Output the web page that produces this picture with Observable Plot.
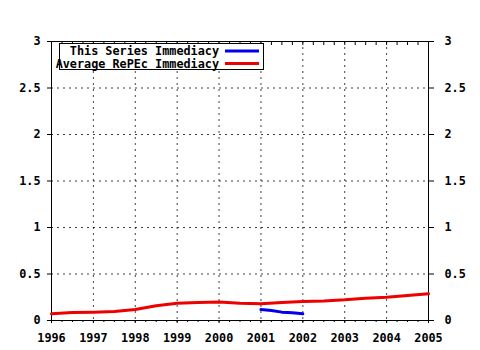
<!DOCTYPE html>
<html>
<head>
<meta charset="utf-8">
<script src="https://cdn.jsdelivr.net/npm/d3@7"></script>
<script src="https://cdn.jsdelivr.net/npm/@observablehq/plot@0.6"></script>
<style>
  html, body { margin: 0; padding: 0; background: #fff; }
  #chart svg { display: block; }
</style>
</head>
<body>
<div id="chart"></div>
<script>
// ---- data ----
const avgYears = [1996, 1996.5, 1997, 1997.5, 1998, 1998.5, 1999, 1999.5, 2000, 2000.5,
                  2001, 2001.5, 2002, 2002.5, 2003, 2003.5, 2004, 2004.5, 2005];
const avgImmediacy = [0.072, 0.086, 0.09, 0.097, 0.118, 0.158, 0.186, 0.193, 0.2, 0.186,
                      0.179, 0.193, 0.204, 0.21, 0.222, 0.24, 0.25, 0.269, 0.287];
const seriesYears = [2001, 2001.25, 2001.5, 2001.75, 2002];
const seriesImmediacy = [0.118, 0.107, 0.09, 0.083, 0.072];
const xTicks = [1996, 1997, 1998, 1999, 2000, 2001, 2002, 2003, 2004, 2005];
const yTicks = [0, 0.5, 1, 1.5, 2, 2.5, 3];
const legendLabels = ["This Series Immediacy", "Average RePEc Immediacy"];
const legendColors = ["#0000ee", "#ee0000"];

const avgData = avgYears.map((x, i) => ({x, y: avgImmediacy[i]}));
const seriesData = seriesYears.map((x, i) => ({x, y: seriesImmediacy[i]}));
const minorTicks = d3.range(xTicks[0] * 4, xTicks[xTicks.length - 1] * 4 + 1).map(q => q / 4);
const fmt = d => String(d);

const font = "DejaVu Sans Mono";
const chart = Plot.plot({
  width: 480,
  height: 350,
  marginLeft: 51,
  marginRight: 52,
  marginTop: 41,
  marginBottom: 30,
  style: {fontFamily: font, fontSize: "11.8px", fontWeight: "bold", color: "#000", background: "#fff"},
  x: {domain: [1996, 2005]},
  y: {domain: [0, 3]},
  marks: [
    Plot.ruleX(xTicks, {stroke: "#000", strokeDasharray: "2,4", strokeOpacity: 0.75}),
    Plot.ruleY(yTicks, {stroke: "#000", strokeDasharray: "2,4", strokeOpacity: 0.75}),
    Plot.frame({stroke: "#000", strokeWidth: 1}),
    Plot.axisX(minorTicks, {anchor: "bottom", tickSize: 2, text: null, label: null, stroke: "#000"}),
    Plot.axisX(minorTicks, {anchor: "top", tickSize: -3, text: null, label: null, stroke: "#000"}),
    Plot.axisX(xTicks, {anchor: "bottom", tickSize: 3, tickPadding: 10, tickFormat: fmt, label: null, fill: "#000"}),
    Plot.axisY(yTicks, {anchor: "left", tickSize: 4, tickPadding: 7, tickFormat: fmt, label: null, fill: "#000"}),
    Plot.axisY(yTicks, {anchor: "right", tickSize: 5, tickPadding: 11, tickFormat: fmt, label: null, fill: "#000"}),
    Plot.line(avgData, {x: "x", y: "y", stroke: legendColors[1], strokeWidth: 3, strokeLinejoin: "round"}),
    Plot.line(seriesData, {x: "x", y: "y", stroke: legendColors[0], strokeWidth: 3, strokeLinejoin: "round"})
  ]
});

// ---- legend (inside the plot, top-left) ----
const svg = d3.select(chart);
const lg = svg.append("g").attr("font-family", font).attr("font-size", "11.8px").attr("font-weight", "bold");
lg.append("rect").attr("x", 59.5).attr("y", 43.5).attr("width", 204).attr("height", 26)
  .attr("fill", "#fff").attr("stroke", "#000").attr("stroke-width", 1);
legendLabels.forEach((lab, i) => {
  const cy = 51 + i * 12.5;
  lg.append("text").attr("x", 219).attr("y", cy).attr("dy", "0.35em")
    .attr("text-anchor", "end").attr("fill", "#000").text(lab);
  lg.append("line").attr("x1", 225).attr("x2", 259).attr("y1", cy).attr("y2", cy)
    .attr("stroke", legendColors[i]).attr("stroke-width", 3);
});

document.getElementById("chart").appendChild(chart);
</script>
</body>
</html>
